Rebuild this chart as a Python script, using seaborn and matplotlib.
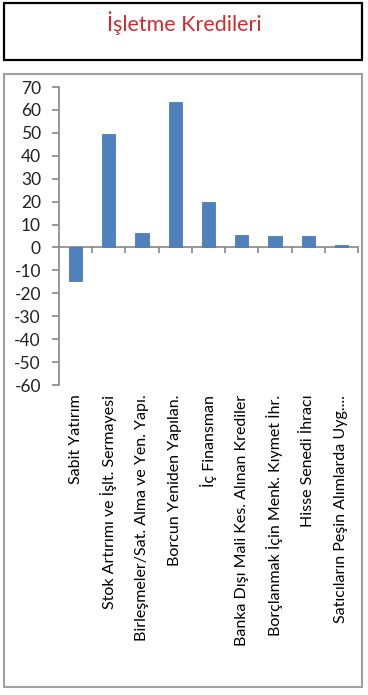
import matplotlib
matplotlib.use("Agg")
import matplotlib.pyplot as plt
import seaborn as sns
import pandas as pd
from matplotlib.patches import Rectangle

# data
categories = [
    "Sabit Yatırım",
    "Stok Artırımı ve İşlt. Sermayesi",
    "Birleşmeler/Sat. Alma ve Yen. Yapı.",
    "Borcun Yeniden Yapılan.",
    "İç Finansman",
    "Banka Dışı Mali Kes. Alınan Krediler",
    "Borçlanmak İçin Menk. Kıymet İhr.",
    "Hisse Senedi İhracı",
    "Satıcıların Peşin Alımlarda Uyg....",
]
values = [-14.8, 49.4, 6.5, 63.3, 20.0, 5.4, 4.8, 4.8, 1.2]
y_ticks = list(range(-60, 71, 10))
title = "İşletme Kredileri"

sns.set_theme(style="white")
plt.rcParams['font.family'] = ['Lato', 'DejaVu Sans']
plt.rcParams['axes.unicode_minus'] = False

df = pd.DataFrame({'cat': categories, 'val': values})

W, H = 368, 695
fig = plt.figure(figsize=(W / 100, H / 100), dpi=100)

# boxes: title frame and chart frame
fig.patches.append(Rectangle((4 / W, 1 - 60 / H), 358 / W, 57 / H, transform=fig.transFigure,
                             fill=False, edgecolor='black', linewidth=1.6))
fig.patches.append(Rectangle((4 / W, 1 - 687 / H), 358 / W, 613 / H, transform=fig.transFigure,
                             fill=False, edgecolor='#a0a0a0', linewidth=1.5))
fig.text(184 / W, 1 - 23 / H, title, color='#d42a2f', fontsize=15.5, ha='center', va='center')

ax = fig.add_axes([59 / W, 1 - 385 / H, 299 / W, 298 / H])
sns.barplot(data=df, x='cat', y='val', color='#4f81bd', width=0.4, saturation=1,
            edgecolor='#4a7ab5', linewidth=0.6, ax=ax)

ax.set_ylim(-60, 70)
ax.set_xlim(-0.5, len(categories) - 0.5)
ax.set_yticks(y_ticks)
ax.set_xlabel('')
ax.set_ylabel('')
for s in ['top', 'right', 'bottom']:
    ax.spines[s].set_visible(False)
ax.spines['left'].set_color('#868686')
ax.spines['left'].set_linewidth(1.2)
ax.tick_params(axis='y', direction='out', length=5, width=1.2, color='#868686',
               labelsize=12.5, labelcolor='#222222', pad=8, left=True)
ax.tick_params(axis='x', length=0, pad=7, labelsize=11.5, labelcolor='black')
plt.setp(ax.get_xticklabels(), rotation=90, ha='center', va='top')

# category axis line at zero with boundary ticks
sec = ax.secondary_xaxis(0, transform=ax.transData)
sec.spines['bottom'].set_color('#868686')
sec.spines['bottom'].set_linewidth(1.2)
sec.set_xticks([i + 0.5 for i in range(len(categories))])
sec.tick_params(direction='out', length=4, width=1.2, color='#868686', labelbottom=False)

fig.savefig('out.png', dpi=100)
